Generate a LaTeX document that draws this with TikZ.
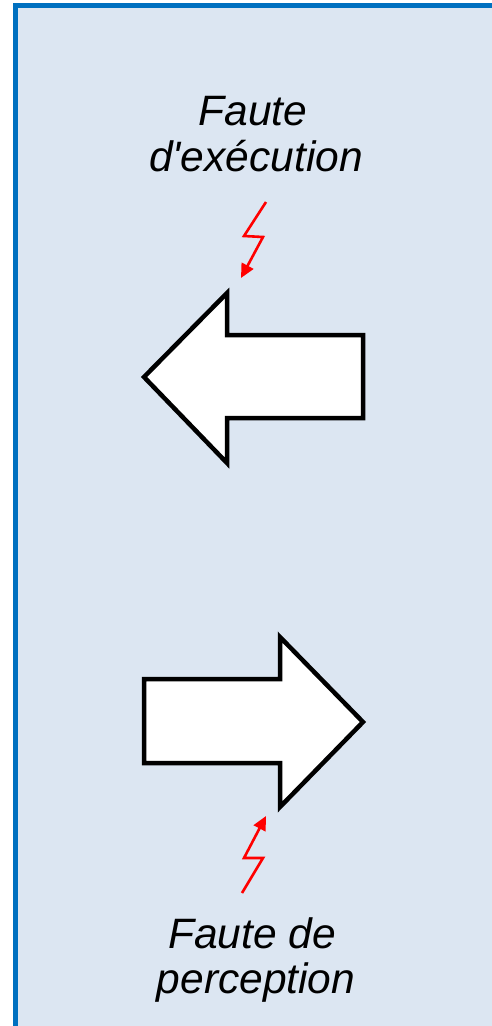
\documentclass[tikz,border=0pt]{standalone}
\usepackage{fontspec}
\setmainfont{Liberation Sans}
\usetikzlibrary{arrows.meta}
\definecolor{bgblue}{HTML}{DCE6F2}
\definecolor{frameblue}{HTML}{0070C0}
\definecolor{boltred}{HTML}{FF0000}
\begin{document}
\begin{tikzpicture}[x=1pt,y=-1pt,
  bigarrow/.style={draw=black,fill=white,line width=4.5pt,line join=miter},
  bolt/.style={draw=boltred,line width=2.6pt,line join=miter,-{Triangle[length=14pt,width=13pt]}},
  label/.style={font=\itshape\fontsize{42.5}{48}\selectfont,anchor=base,inner sep=0pt}]
\useasboundingbox (0,0) rectangle (492,1026);
\begin{scope}
\clip (0,0) rectangle (492,1026);
\fill[white] (0,0) rectangle (492,1026);
\draw[draw=frameblue,fill=bgblue,line width=5pt] (15.5,5.5) rectangle (520,1060);
\end{scope}
% left arrow
\path[bigarrow] (144,377) -- (227,293) -- (227,335) -- (363,335) -- (363,418) -- (227,418) -- (227,463) -- cycle;
% right arrow
\path[bigarrow] (363,722) -- (280,637) -- (280,679) -- (144,679) -- (144,763) -- (280,763) -- (280,807) -- cycle;
% labels
\node[label] (t1) at (253,125) {Faute};
\node[label] (t2) at (256,171) {d\textquotesingle exécution};
\node[label] (b1) at (252,948) {Faute de};
\node[label] (b2) at (256,993) {perception};
% bolts
\coordinate (a0) at (266,202);
\coordinate (a1) at (244,236);
\coordinate (a2) at (263,237);
\coordinate (a3) at (241,278);
\draw[bolt] (a0) -- (a1) -- (a2) -- (a3);
\coordinate (c0) at (242,893);
\coordinate (c1) at (263,858);
\coordinate (c2) at (244,858);
\coordinate (c3) at (266,816);
\draw[bolt] (c0) -- (c1) -- (c2) -- (c3);
\end{tikzpicture}
\end{document}
